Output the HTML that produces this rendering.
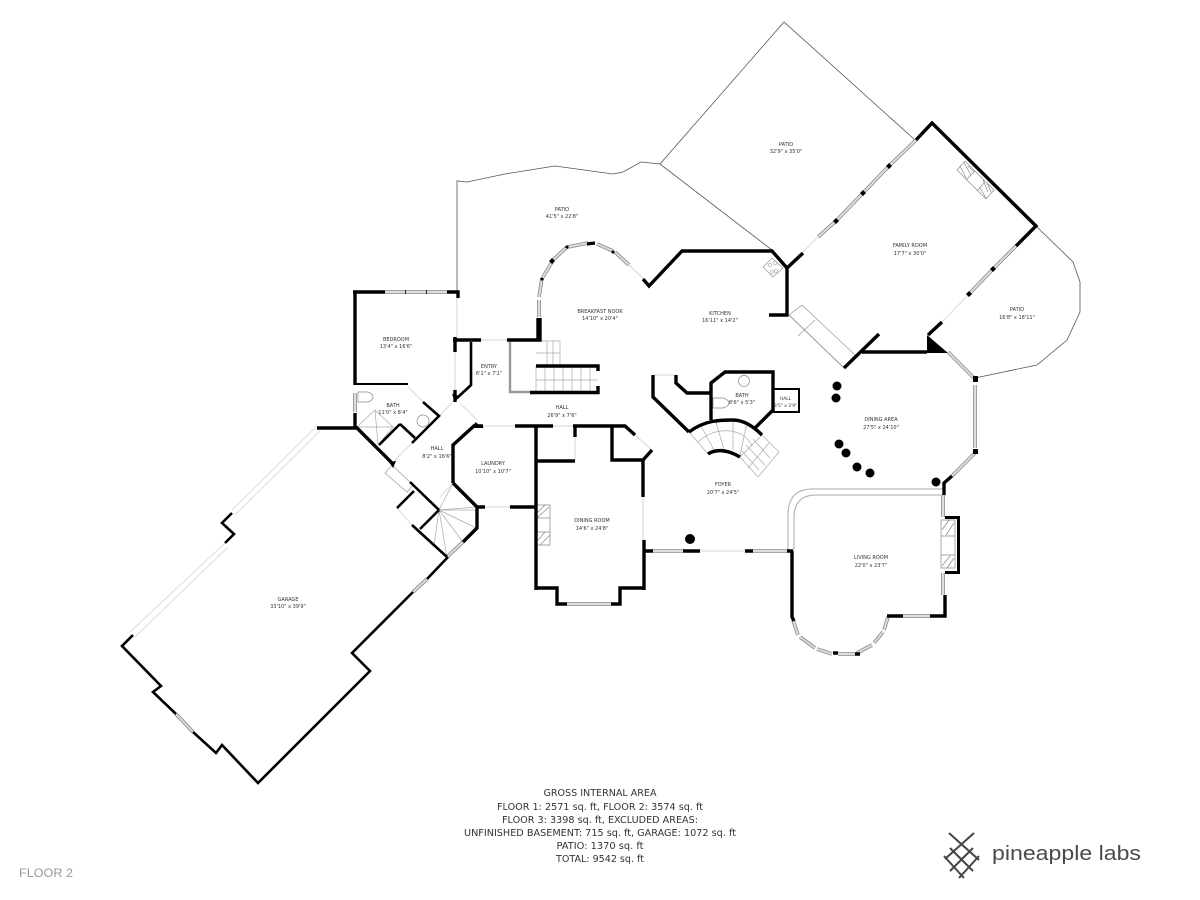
<!DOCTYPE html>
<html><head><meta charset="utf-8"><style>
html,body{margin:0;padding:0;background:#fff}
svg{display:block}
.w{fill:none;stroke:#000;stroke-width:3.4;stroke-linejoin:miter;stroke-linecap:butt}
.t{stroke-width:2.6}
.n{stroke-width:2}
.p{fill:none;stroke:#555;stroke-width:.8}
.l{fill:none;stroke:#ddd;stroke-width:1.2}
.g{fill:none;stroke:#aaa;stroke-width:.7}
.wo{fill:none;stroke:#888;stroke-width:3.6}
.wi{fill:none;stroke:#ddd;stroke-width:2}
text{font-family:"DejaVu Sans","Liberation Sans",sans-serif}
.a text{font-size:5px;fill:#333;text-anchor:middle}
.b text{font-size:9.6px;fill:#333;text-anchor:middle}
</style></head><body>
<svg width="1200" height="900" viewBox="0 0 1200 900" xmlns="http://www.w3.org/2000/svg">
<rect width="1200" height="900" fill="#fff"/>
<!-- patios -->
<path class="p" d="M457 292V181L467 182 505 174 555 166 613 174 623 172 641 162 660 164 772 250M660 164 784 22 915 140M1036 226 1073 262 1080 282 1080 312 1067 340 1037 365 975 378"/>
<!-- light doors / openings -->
<path class="l" d="M457 298V337M455 352V390M481 340H507M408 387 423 402M412 443 395 460M460 403 477 420M457 398 439 416M453 483 440 497M397 508 412 525M485 507H510M483 426H515M553 426H573M575 437V461M635 435 652 450M643 497V540M700 551H745M629 265 643 278M653 375H676M803 252 818 237M969 294 942 322"/>
<path class="l" d="M317 426 232 510M320 431 235 515M225 543 130 632M228 547 135 637" style="stroke-width:1"/>
<path class="l" d="M789 315 844 368" style="stroke:#bbb"/>
<!-- windows -->
<g id="win">
<path class="wo" d="M385 292H447M355 393V412M539 300V317M539 297 542 278M543 277 552 262M553 260 567 247M568 247 588 243M597 244 613 251M615 252 629 265M653 551H683M753 551H787M567 604H611M793 620 798 635M800 637 815 648M817 649 832 654M838 654H855M857 653 872 645M874 643 883 632M884 630 888 617M903 616H930M943 573V595M943 495V517M916 140 889 166M889 166 863 193M863 193 836 221M836 221 818 237M1016 246 993 269M993 269 969 294M948 352 974 378M975 385V448M975 453 952 476M176 714 193 732M413 592 427 579M463 542 447 557"/>
<path class="wi" d="M385 292H447M355 393V412M539 300V317M539 297 542 278M543 277 552 262M553 260 567 247M568 247 588 243M597 244 613 251M615 252 629 265M653 551H683M753 551H787M567 604H611M793 620 798 635M800 637 815 648M817 649 832 654M838 654H855M857 653 872 645M874 643 883 632M884 630 888 617M903 616H930M943 573V595M943 495V517M916 140 889 166M889 166 863 193M863 193 836 221M836 221 818 237M1016 246 993 269M993 269 969 294M948 352 974 378M975 385V448M975 453 952 476M176 714 193 732M413 592 427 579M463 542 447 557"/>
</g>
<path d="M405 292H406M426 292H427" stroke="#222" stroke-width="4" fill="none"/>
<!-- gray interior lines -->
<path d="M510 342V392H530" fill="none" stroke="#999" stroke-width="2.4"/>
<path d="M943 489H812Q788 489 788 515V550M943 495H816Q794 495 794 518V550" fill="none" stroke="#aaa" stroke-width="1"/>
<!-- stairs -->
<path class="g" d="M536 341H560V366M547 341V366M553 341V366M536 353H560M536 366V392M545 366V392M554 366V392M563 366V392M572 366V392M581 366V392M590 366V392M536 380H598"/>
<path class="g" d="M689 432 708 454M701 426 715 452M716 422 724 450M733 420 733 451M747 423 740 455M762 435 740 457M698 442C715 425 745 428 752 446M769 443 748 468M753 439 770 458M746 445 765 465M741 450 759 470M762 435 779 452 758 477 740 457"/>
<path class="g" d="M439 510 477 507M439 510 476 528M439 510 463 542M439 510 447 557M439 510 434 545M439 510 420 529M439 510 453 483M439 510 477 510"/>
<path class="g" d="M357 427 375 410 393 427 378 445M375 410 378 445M358 427H393"/>
<!-- fixtures -->
<path class="g" style="stroke:#888" d="M358 392H368Q373 394 373 397Q373 400 368 402H358ZM713 398H723Q729 400 729 403Q729 406 723 408H713Z"/>
<circle cx="423" cy="421" r="6" class="g" style="stroke:#888"/><circle cx="744" cy="381" r="5.5" class="g" style="stroke:#888"/>
<path class="g" style="stroke:#999" d="M385 473 392 465 413 485 407 492ZM802 305 855 355 844 368 789 315ZM815 320 798 336M763 267 772 258 783 268 773 277Z"/>
<circle cx="770" cy="265" r="1.8" class="g"/><circle cx="776" cy="271" r="1.8" class="g"/><circle cx="772" cy="272" r="1.8" class="g"/><circle cx="775" cy="263" r="1.8" class="g"/>
<!-- fireplaces -->
<path class="g" style="stroke:#888" d="M957 170 965 161 994 190 986 199ZM966 180 975 171M977 191 985 182M960 166 966 178M964 163 971 175M968 166 974 172M983 180 988 192M987 183 991 192M980 188 986 198"/>
<path class="g" style="stroke:#888" d="M537 505H550V545H537M537 518H550M537 532H550M538 512 545 505M538 517 549 507M538 540 545 532M540 545 550 535M941 520H955V568H941ZM941 536H955M941 555H955M942 530 949 520M946 535 954 523M942 566 950 556M947 568 954 558"/>
<path fill="#000" d="M945 516H960V574H945V571H957V519H945Z"/>
<!-- walls -->
<g>
<path class="w" d="M353 292H385M447 292H458V298M355 292V385M355 413V427"/>
<path class="w n" d="M355 384H408"/>
<path class="w t" d="M423 402 439 416 412 443M400 424 379 445M400 424 415 438"/>
<path class="w" d="M317 428H356M356 427 393 464"/>
<path class="w t" d="M410 482 439 510M414 491 397 508M412 525 447 557M439 510 420 529"/>
<path class="w" d="M455 337V352M455 390V402M453 340H481M507 340H540V318"/>
<path class="w t" d="M471 342V385L457 398"/>
<path class="w" d="M530 392.5H598V386M536 366H598V371"/>
<path class="w" d="M453 483 477 507V528L463 542M477 507H485M510 507H536M453 483V445L475 425M473 426H483"/>
<path class="w" d="M515 426H553M573 426H625L635 435M652 450 643 460V497M612 426V460H643M536 426V590M536 461H575M575 426V437"/>
<path class="w" d="M535 588H557V604H567M611 604H620V588H645M644 540V590M645 551H653M683 551H700M745 551H753M787 551H793"/>
<path class="w" d="M792 551V617L794 621"/>
<path class="w" d="M887 616H903M930 616H945V595M944 495V483L952 476"/>
<path class="w" d="M538 340V318M587 244 595 243M643 279 649 286 682 251H772L787 268 803 253M787 268V315H769"/>
<path class="w" d="M916 140 932 123 1036 226 1016 246M942 322 928 335M844 368 879 334M862 352H927"/>
<path class="w" d="M653 375V397L689 432M676 375V383L687 393H711M711 420V383L725 372H773V410L755 428"/>
<path class="w n" d="M773 389H799V412H773"/>
<path class="w" d="M689 432C705 420 720 420 733 420 745 420 755 428 762 435M708 454C714 450 725 448 740 457"/>
<path class="w" d="M833 653H838M855 654H860"/>
<path class="w t" d="M232 513 222 523 234 534 225 543M133 635 122 646 161 686 153 692 176 714M193 732 216 753 222 745 258 783 370 671 352 653 413 592M427 579 448 557"/>
<path fill="#000" d="M927 335 948 353H927ZM475 422 484 428H474ZM455 402 452 394 460 396ZM393 468 389 462 396 461Z"/>
<path fill="#000" d="M973 376h5v6h-5zM973 449h5v5h-5zM889 163l3 3-3 3-3-3zM863 190l3 3-3 3-3-3zM836 218l3 3-3 3-3-3zM993 266l3 3-3 3-3-3zM969 291l3 3-3 3-3-3zM552 258l3 3-3 3-3-3zM567 245l2 2-2 2-2-2zM542 277l2 2-2 2-2-2zM613 250l2 2-2 2-2-2z"/>
<g fill="#000"><circle cx="837" cy="386" r="4.5"/><circle cx="836" cy="398" r="4.5"/><circle cx="839" cy="444" r="4.5"/><circle cx="846" cy="453" r="4.5"/><circle cx="857" cy="467" r="4.5"/><circle cx="870" cy="473" r="4.5"/><circle cx="936" cy="482" r="4.5"/><circle cx="690" cy="539" r="5"/></g>
</g>
<!-- labels -->
<g class="a">
<text x="786" y="146">PATIO</text><text x="786" y="153">32'9" x 35'0"</text>
<text x="562" y="211">PATIO</text><text x="562" y="218">41'5" x 22'8"</text>
<text x="600" y="313">BREAKFAST NOOK</text><text x="600" y="320">14'10" x 20'4"</text>
<text x="720" y="315">KITCHEN</text><text x="720" y="322">16'11" x 14'2"</text>
<text x="910" y="247">FAMILY ROOM</text><text x="910" y="255">17'7" x 30'0"</text>
<text x="1017" y="311">PATIO</text><text x="1017" y="319">16'8" x 18'11"</text>
<text x="396" y="341">BEDROOM</text><text x="396" y="348">13'4" x 16'6"</text>
<text x="489" y="368">ENTRY</text><text x="489" y="375">6'1" x 7'1"</text>
<text x="393" y="407">BATH</text><text x="393" y="414">11'0" x 8'4"</text>
<text x="437" y="450">HALL</text><text x="437" y="458">8'2" x 16'6"</text>
<text x="562" y="409">HALL</text><text x="562" y="417">26'9" x 7'6"</text>
<text x="493" y="465">LAUNDRY</text><text x="493" y="473">10'10" x 10'7"</text>
<text x="592" y="522">DINING ROOM</text><text x="592" y="530">14'6" x 24'8"</text>
<text x="723" y="486">FOYER</text><text x="723" y="494">20'7" x 24'5"</text>
<text x="871" y="559">LIVING ROOM</text><text x="871" y="567">22'0" x 23'7"</text>
<text x="881" y="421">DINING AREA</text><text x="881" y="429">27'5" x 24'10"</text>
<text x="742" y="397">BATH</text><text x="742" y="404">8'6" x 5'3"</text>
<text x="785.5" y="400" style="font-size:4.4px">HALL</text><text x="785.5" y="407" style="font-size:4.4px">3'5" x 3'9"</text>
<text x="288" y="601">GARAGE</text><text x="288" y="608">33'10" x 39'9"</text>
</g>
<g class="b">
<text x="600" y="796" textLength="113" lengthAdjust="spacingAndGlyphs">GROSS INTERNAL AREA</text>
<text x="600" y="810" textLength="206" lengthAdjust="spacingAndGlyphs">FLOOR 1: 2571 sq. ft, FLOOR 2: 3574 sq. ft</text>
<text x="600" y="823" textLength="196" lengthAdjust="spacingAndGlyphs">FLOOR 3: 3398 sq. ft, EXCLUDED AREAS:</text>
<text x="600" y="836" textLength="272" lengthAdjust="spacingAndGlyphs">UNFINISHED BASEMENT: 715 sq. ft, GARAGE: 1072 sq. ft</text>
<text x="600" y="849" textLength="87" lengthAdjust="spacingAndGlyphs">PATIO: 1370 sq. ft</text>
<text x="600" y="862" textLength="88" lengthAdjust="spacingAndGlyphs">TOTAL: 9542 sq. ft</text>
</g>
<text x="19" y="877" font-size="11.5" fill="#999" textLength="54" lengthAdjust="spacingAndGlyphs" style="font-family:'Liberation Sans',sans-serif">FLOOR 2</text>
<!-- logo -->
<path fill="none" stroke="#444" stroke-width="2" d="M949 833 979 860M950 848 973 871M944 856 964 878M974 833 945 859M973 848 950 871M979 856 959 878"/>
<text x="992" y="860" font-size="20.5" fill="#4a4a4a" textLength="149" lengthAdjust="spacingAndGlyphs" style="font-family:'Liberation Sans',sans-serif">pineapple labs</text>
</svg>
</body></html>
